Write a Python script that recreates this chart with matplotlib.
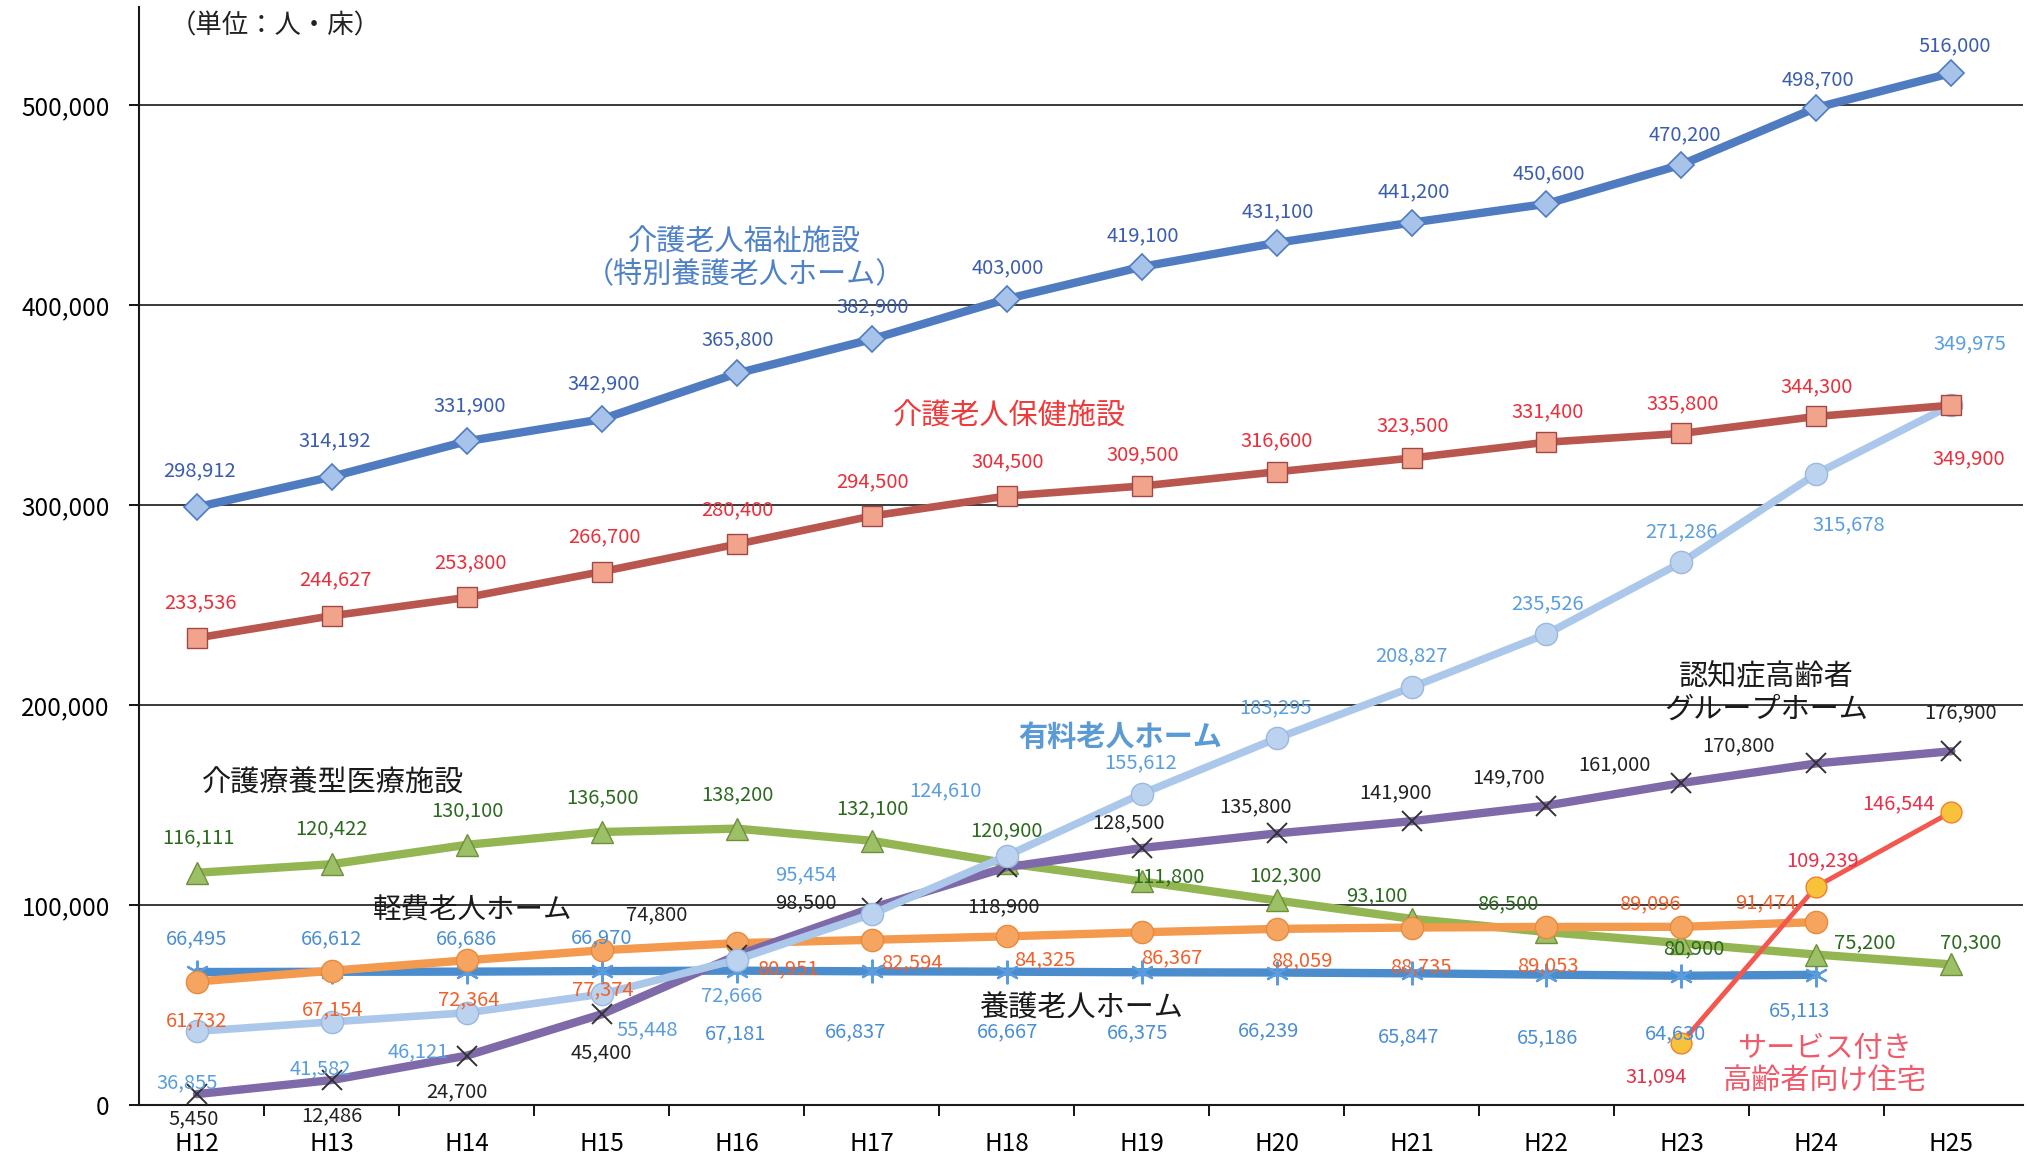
import numpy as np
import matplotlib
matplotlib.use("Agg")
import matplotlib.pyplot as plt
from matplotlib.ticker import FuncFormatter

plt.rcParams['font.family'] = ['Noto Sans CJK JP', 'DejaVu Sans']

years = ["H12", "H13", "H14", "H15", "H16", "H17", "H18",
         "H19", "H20", "H21", "H22", "H23", "H24", "H25"]

tokuyou = [298912, 314192, 331900, 342900, 365800, 382900, 403000,
           419100, 431100, 441200, 450600, 470200, 498700, 516000]
rouken = [233536, 244627, 253800, 266700, 280400, 294500, 304500,
          309500, 316600, 323500, 331400, 335800, 344300, 349900]
yuryou = [36855, 41582, 46121, 55448, 72666, 95454, 124610,
          155612, 183295, 208827, 235526, 271286, 315678, 349975]
group_home = [5450, 12486, 24700, 45400, 74800, 98500, 118900,
              128500, 135800, 141900, 149700, 161000, 170800, 176900]
ryouyou = [116111, 120422, 130100, 136500, 138200, 132100, 120900,
           111800, 102300, 93100, 86500, 80900, 75200, 70300]
keihi = [61732, 67154, 72364, 77374, 80951, 82594, 84325,
         86367, 88059, 88735, 89053, 89096, 91474]
yougo = [66495, 66612, 66686, 66970, 67181, 66837, 66667,
         66375, 66239, 65847, 65186, 64630, 65113]
sakouju = [31094, 109239, 146544]
sakouju_start = 11  # H23

# label offsets (pixels, x right / y up) for each data label
off_tokuyou = [(3, 36), (3, 36), (3, 35), (2, 35), (1, 34), (1, 32), (1, 31),
               (1, 31), (1, 31), (2, 31), (2, 30), (3, 30), (2, 28), (3, 27)]
off_rouken = [(4, 35), (4, 36), (4, 35), (3, 35), (1, 34), (1, 34), (1, 34),
              (1, 31), (0, 31), (1, 32), (1, 30), (1, 30), (0, 30), (17, -54)]
off_yuryou = [(-10, -51), (-12, -47), (-49, -39), (45, -36), (-5, -36), (-66, 39), (-61, 65),
              (-1, 31), (-1, 31), (0, 32), (1, 30), (0, 31), (32, -51), (19, 61)]
off_group = [(-3, -25), (0, -36), (-10, -36), (0, -39), (-80, 41), (-66, 5), (-3, -40),
             (-13, 25), (-21, 27), (-16, 28), (-38, 28), (-67, 18), (-78, 18), (9, 38)]
off_ryouyou = [(1, 35), (0, 35), (1, 34), (1, 34), (1, 34), (1, 32), (0, 32),
               (27, 5), (9, 25), (-35, 23), (-39, 28), (12, -6), (48, 12), (19, 22)]
off_keihi = [(0, -39), (1, -39), (2, -40), (1, -40), (51, -26), (40, -23), (38, -23),
             (30, -26), (25, -32), (9, -39), (1, -39), (-32, 23), (-51, 19)]
off_yougo = [(0, 33), (0, 33), (0, 33), (0, 33), (-1, -63), (-16, -60), (1, -60),
             (-4, -61), (-8, -58), (-3, -63), (1, -63), (-6, -58), (-17, -36)]
off_sakouju = [(-25, -34), (6, 26), (-53, 8)]


def draw_series(ax, xs, vals, offsets, line_color, label_color, z, **mk):
    ax.plot(xs, vals, color=line_color, zorder=z, solid_capstyle='round', **mk)
    for x, v, (dx, dy) in zip(xs, vals, offsets):
        ax.annotate(f"{v:,}", (x, v), xytext=(dx, dy), textcoords='offset pixels',
                    ha='center', va='center', fontsize=14.5, color=label_color, zorder=20)


fig = plt.figure(figsize=(20.31, 11.57), dpi=100)
ax = fig.add_axes([0.0684, 0.04494, 0.9276, 0.9494])

x = np.arange(len(years))

# -------------------------
# series
# -------------------------
draw_series(ax, x[:len(yougo)], yougo, off_yougo, '#4a8ccc', '#4a8ed4', 3,
            lw=6, marker=(6, 2, 0), ms=17, mec='#5b9be0', mew=1.6)
draw_series(ax, x, ryouyou, off_ryouyou, '#93b653', '#2b6a1f', 4,
            lw=6, marker='^', ms=16, mfc='#9cc065', mec='#6f8f3a', mew=1)
draw_series(ax, x[:len(keihi)], keihi, off_keihi, '#f39a4f', '#f0602a', 5,
            lw=6, marker='o', ms=16, mfc='#f5a560', mec='#e88a3c', mew=1)
draw_series(ax, x, group_home, off_group, '#7e6aa8', '#222222', 6,
            lw=6, marker='x', ms=15, mec='#333333', mew=1.4)
draw_series(ax, x, yuryou, off_yuryou, '#abc7ea', '#5a9ee0', 7,
            lw=5.5, marker='o', ms=16, mfc='#bcd3f0', mec='#9bb8e0', mew=1)
draw_series(ax, x, rouken, off_rouken, '#b9574f', '#e8303c', 8,
            lw=5.5, marker='s', ms=15, mfc='#f2a38c', mec='#a04848', mew=1)
draw_series(ax, x, tokuyou, off_tokuyou, '#4f7cc0', '#3b5db0', 9,
            lw=6, marker='D', ms=13, mfc='#a8c3ea', mec='#4f7cc0', mew=1.2)
draw_series(ax, x[sakouju_start:], sakouju, off_sakouju, '#f2584e', '#e8304a', 10,
            lw=3.5, marker='o', ms=15, mfc='#f8c23a', mec='#f08030', mew=1)

# -------------------------
# series names
# -------------------------
ax.text(4.06, 423000, "介護老人福祉施設\n（特別養護老人ホーム）", fontsize=21,
        color='#4f81c7', ha='center', va='center', linespacing=1.1)
ax.text(6.02, 344000, "介護老人保健施設", fontsize=21, color='#ee3a3a',
        ha='center', va='center')
ax.text(6.84, 184000, "有料老人ホーム", fontsize=21, color='#5b9bd5',
        ha='center', va='center', fontweight='bold')
ax.text(11.63, 206000, "認知症高齢者\nグループホーム", fontsize=21, color='#1a1a1a',
        ha='center', va='center', linespacing=1.1)
ax.text(1.01, 160500, "介護療養型医療施設", fontsize=21, color='#1a1a1a',
        ha='center', va='center')
ax.text(2.04, 97000, "軽費老人ホーム", fontsize=20.5, color='#1a1a1a',
        ha='center', va='center')
ax.text(6.55, 48000, "養護老人ホーム", fontsize=21, color='#1a1a1a',
        ha='center', va='center')
ax.text(12.06, 20000, "サービス付き\n高齢者向け住宅", fontsize=21, color='#f05a6a',
        ha='center', va='center', linespacing=1.05)
ax.text(-0.2, 539500, "（単位：人・床）", fontsize=19, color='#222222',
        ha='left', va='center')

# -------------------------
# axes
# -------------------------
ax.set_xlim(-0.43, 13.53)
ax.set_ylim(0, 549250)
ax.set_xticks(x)
ax.set_xticklabels(years, fontsize=17.5)
ax.set_xticks(np.arange(0.5, 13, 1), minor=True)
ax.tick_params(axis='x', which='major', length=0, pad=19)
ax.tick_params(axis='x', which='minor', length=8, width=1.3, direction='out')

ax.set_yticks(np.arange(0, 500001, 100000))
ax.yaxis.set_major_formatter(FuncFormatter(lambda v, p: f"{int(v):,}"))
ax.tick_params(axis='y', length=7, width=1.3, pad=14, labelsize=17.5)
ax.yaxis.grid(True, color='#2a2a2a', lw=1.3)
ax.set_axisbelow(True)

for side in ['top', 'right']:
    ax.spines[side].set_visible(False)
for side in ['left', 'bottom']:
    ax.spines[side].set_linewidth(1.5)
    ax.spines[side].set_color('#1a1a1a')

fig.savefig("out.png", dpi=100)
